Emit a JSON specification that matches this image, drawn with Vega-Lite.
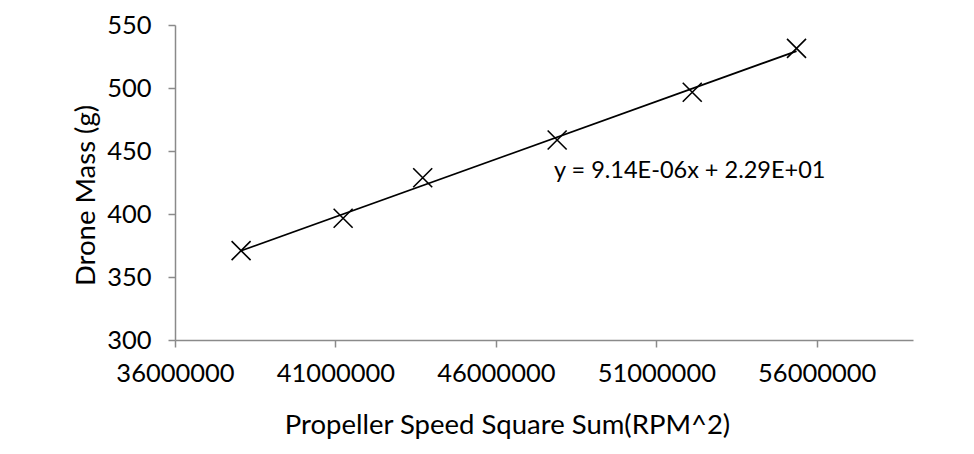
{
  "$schema": "https://vega.github.io/schema/vega-lite/v6.json",
  "width": 738,
  "height": 315,
  "autosize": {"type": "none"},
  "padding": {"left": 175, "top": 25, "right": 61, "bottom": 114},
  "background": "white",
  "config": {
    "view": {"stroke": null},
    "axis": {
      "domainColor": "#8a8a8a",
      "domainWidth": 1.5,
      "tickColor": "#8a8a8a",
      "tickWidth": 1.5,
      "tickSize": 7,
      "grid": false,
      "labelFont": "Lato",
      "labelFontSize": 25.5,
      "labelFontWeight": "normal",
      "labelColor": "#000000",
      "labelFlush": false,
      "labelOverlap": false,
      "titleFont": "Lato",
      "titleFontSize": 27.5,
      "titleFontWeight": "normal",
      "titleColor": "#000000"
    }
  },
  "layer": [
    {
      "data": {
        "values": [
          {"speed_sq_sum": 38060000, "mass": 370.9},
          {"speed_sq_sum": 41240000, "mass": 396.6},
          {"speed_sq_sum": 43720000, "mass": 428.8},
          {"speed_sq_sum": 47910000, "mass": 458.7},
          {"speed_sq_sum": 52120000, "mass": 496.6},
          {"speed_sq_sum": 55370000, "mass": 531.5}
        ]
      },
      "layer": [
        {
          "transform": [{"regression": "mass", "on": "speed_sq_sum", "method": "linear"}],
          "mark": {"type": "line", "color": "#000000", "strokeWidth": 1.8},
          "encoding": {
            "x": {"field": "speed_sq_sum", "type": "quantitative"},
            "y": {"field": "mass", "type": "quantitative"}
          }
        },
        {
          "mark": {
            "type": "point",
            "shape": "M-1,-1L1,1M-1,1L1,-1",
            "filled": false,
            "stroke": "#000000",
            "strokeWidth": 1.6,
            "size": 361,
            "opacity": 1
          },
          "encoding": {
            "x": {
              "field": "speed_sq_sum",
              "type": "quantitative",
              "scale": {"domain": [36000000, 59000000], "nice": false, "zero": false},
              "axis": {
                "values": [36000000, 41000000, 46000000, 51000000, 56000000],
                "format": "d",
                "labelPadding": 14,
                "title": "Propeller Speed Square Sum(RPM^2)",
                "titleX": 332,
                "titleY": 93,
                "titleBaseline": "alphabetic",
                "titleAlign": "center"
              }
            },
            "y": {
              "field": "mass",
              "type": "quantitative",
              "scale": {"domain": [300, 550], "nice": false, "zero": false},
              "axis": {
                "values": [300, 350, 400, 450, 500, 550],
                "labelPadding": 17,
                "title": "Drone Mass (g)",
                "titleX": -89,
                "titleY": 170,
                "titleAngle": -90,
                "titleBaseline": "middle",
                "titleAlign": "center"
              }
            }
          }
        }
      ]
    },
    {
      "data": {"values": [{"equation": "y = 9.14E-06x + 2.29E+01"}]},
      "mark": {
        "type": "text",
        "font": "Lato",
        "fontSize": 23.5,
        "fontWeight": "normal",
        "align": "left",
        "baseline": "alphabetic",
        "color": "#000000"
      },
      "encoding": {
        "text": {"field": "equation", "type": "nominal"},
        "x": {"datum": 47810000, "type": "quantitative"},
        "y": {"datum": 428.6, "type": "quantitative"}
      }
    }
  ]
}
